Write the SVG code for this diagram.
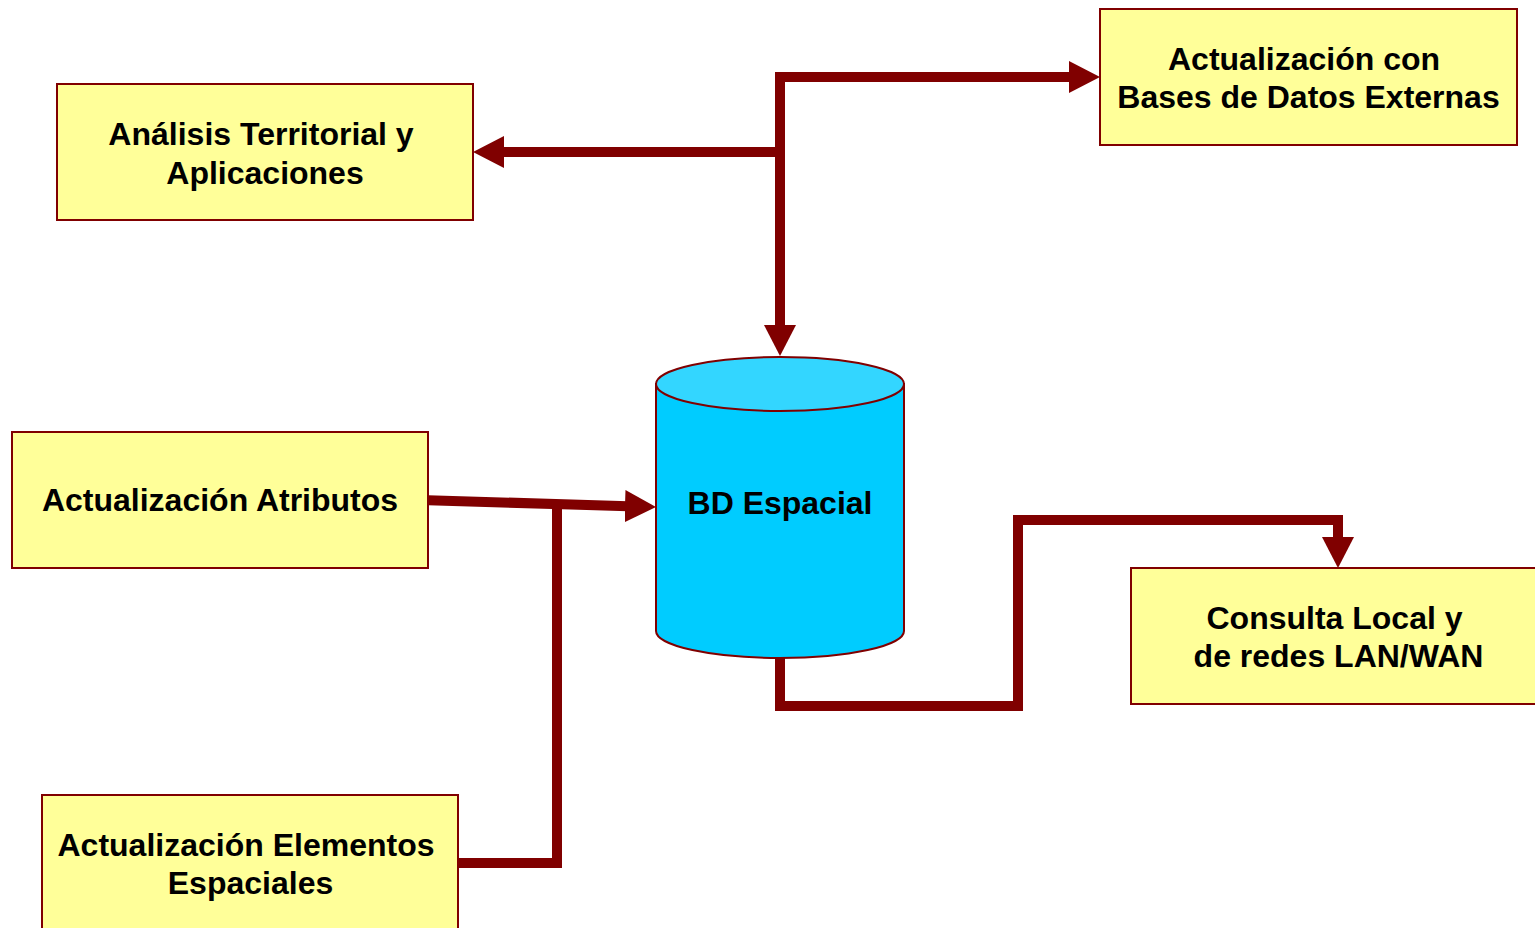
<svg xmlns="http://www.w3.org/2000/svg" width="1535" height="928" viewBox="0 0 1535 928">
  <style>
    .box { fill: #FFFF99; stroke: #800000; stroke-width: 2; }
    .lbl { font-family: "Liberation Sans", Arial, sans-serif; font-weight: bold; font-size: 32px; fill: #000000; text-anchor: middle; }
    .conn { fill: none; stroke: #800000; stroke-width: 10; stroke-linejoin: miter; stroke-linecap: butt; }
    .arr { marker-end: url(#ah); }
    .cyl { stroke: #800000; stroke-width: 2; }
  </style>
  <defs>
    <marker id="ah" markerUnits="userSpaceOnUse" markerWidth="31" markerHeight="32" viewBox="0 0 31 32" refX="3" refY="16" orient="auto">
      <path d="M0,0 L31,16 L0,32 Z" fill="#800000"/>
    </marker>
  </defs>
  <rect width="1535" height="928" fill="#FFFFFF"/>

  <g id="connectors">
    <path class="conn" d="M780,72 L780,328" marker-end="url(#ah)"/>
    <path class="conn" d="M780,77 L1072,77" marker-end="url(#ah)"/>
    <path class="conn" d="M780,152 L501,152" marker-end="url(#ah)"/>
    <path class="conn" d="M420,500 L628,506.2" marker-end="url(#ah)"/>
    <path class="conn" d="M450,863 L557,863 L557,505"/>
    <path class="conn" d="M780,650 L780,706 L1018,706 L1018,520 L1338,520 L1338,540" marker-end="url(#ah)"/>
  </g>

  <g id="node-analisis">
    <rect class="box" x="57" y="84" width="416" height="136"/>
    <text class="lbl" x="261" y="145">Análisis Territorial y</text>
    <text class="lbl" x="265" y="184">Aplicaciones</text>
  </g>

  <g id="node-bases-externas">
    <rect class="box" x="1100" y="9" width="417" height="136"/>
    <text class="lbl" x="1304" y="70">Actualización con</text>
    <text class="lbl" x="1308.5" y="108">Bases de Datos Externas</text>
  </g>

  <g id="node-atributos">
    <rect class="box" x="12" y="432" width="416" height="136"/>
    <text class="lbl" x="220" y="511">Actualización Atributos</text>
  </g>

  <g id="node-elementos">
    <rect class="box" x="42" y="795" width="416" height="136"/>
    <text class="lbl" x="246" y="856">Actualización Elementos</text>
    <text class="lbl" x="250.5" y="894">Espaciales</text>
  </g>

  <g id="node-consulta">
    <rect class="box" x="1131" y="568" width="416" height="136"/>
    <text class="lbl" x="1334.5" y="629">Consulta Local y</text>
    <text class="lbl" x="1338.5" y="667">de redes LAN/WAN</text>
  </g>

  <g id="node-bd-espacial">
    <path class="cyl" fill="#00CCFF" d="M656,384 L656,631 A124,27 0 0 0 904,631 L904,384 Z"/>
    <ellipse class="cyl" fill="#33D6FF" cx="780" cy="384" rx="124" ry="27"/>
    <text class="lbl" x="780" y="514">BD Espacial</text>
  </g>
</svg>
